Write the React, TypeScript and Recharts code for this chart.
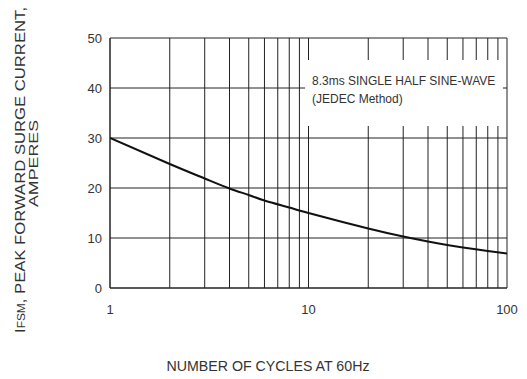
import React from "react";
import { LineChart, Line, XAxis, YAxis, ReferenceLine, Customized } from "recharts";

const cycles = [1, 2, 3, 4, 5, 6, 8, 10, 20, 30, 40, 50, 60, 80, 100];
const current = [30, 24.8, 21.9, 19.9, 18.6, 17.5, 16.1, 15.0, 11.9, 10.3, 9.3, 8.6, 8.1, 7.4, 6.9];
const xTicks = [1, 10, 100];
const yTicks = [0, 10, 20, 30, 40, 50];
const xGrid = [1, 2, 3, 4, 5, 6, 7, 8, 9, 10, 20, 30, 40, 50, 60, 70, 80, 90, 100];
const yGrid = [0, 10, 20, 30, 40, 50];
const noteLines = ["8.3ms SINGLE HALF SINE-WAVE", "(JEDEC Method)"];
const xTitle = "NUMBER OF CYCLES AT 60Hz";
const yTitleMain = "I";
const yTitleSub = "FSM";
const yTitleRest = ", PEAK FORWARD SURGE  CURRENT,";
const yTitle2 = "AMPERES";

const data = cycles.map((c, i) => ({ cycles: c, current: current[i] }));

const FONT = "'Liberation Sans', Arial, sans-serif";

const Titles = () => (
  <g fontFamily={FONT} fill="#333">
    <text
      x={268}
      y={371}
      textAnchor="middle"
      fontSize={15}
      textLength={203}
      lengthAdjust="spacingAndGlyphs"
    >
      {xTitle}
    </text>
    <text
      transform="translate(25,170) rotate(-90)"
      textAnchor="middle"
      fontSize={14}
      textLength={326}
      lengthAdjust="spacingAndGlyphs"
    >
      <tspan>{yTitleMain}</tspan>
      <tspan fontSize={10}>{yTitleSub}</tspan>
      <tspan>{yTitleRest}</tspan>
    </text>
    <text
      transform="translate(37.7,163.5) rotate(-90)"
      textAnchor="middle"
      fontSize={13}
      textLength={87}
      lengthAdjust="spacingAndGlyphs"
    >
      {yTitle2}
    </text>
  </g>
);

export default function App() {
  return (
    <div style={{ position: "absolute", left: 0, top: 0, width: 527, height: 379, background: "#fff" }}>
      <LineChart
        width={527}
        height={379}
        data={data}
        margin={{ top: 38, right: 20, left: 0, bottom: 0 }}
      >
        <XAxis
          dataKey="cycles"
          type="number"
          scale="log"
          domain={[1, 100]}
          ticks={xTicks}
          allowDataOverflow
          tickLine={false}
          axisLine={{ stroke: "#222" }}
          tick={{ fill: "#333", fontSize: 13, fontFamily: FONT }}
          tickMargin={11}
          height={91}
        />
        <YAxis
          type="number"
          domain={[0, 50]}
          ticks={yTicks}
          tickLine={false}
          axisLine={{ stroke: "#222" }}
          tick={{ fill: "#333", fontSize: 13, fontFamily: FONT }}
          width={110}
        />
        {xGrid.map((v) => (
          <ReferenceLine key={"x" + v} x={v} stroke="#222" strokeWidth={1} />
        ))}
        {yGrid.map((v) => (
          <ReferenceLine key={"y" + v} y={v} stroke="#222" strokeWidth={1} />
        ))}
        <Line
          type="natural"
          dataKey="current"
          stroke="#111"
          strokeWidth={2}
          dot={false}
          isAnimationActive={false}
        />
        <Customized component={Titles} />
      </LineChart>
      <div
        style={{
          position: "absolute",
          left: 305,
          top: 60,
          width: 191,
          height: 54,
          background: "#fff",
          paddingLeft: 7,
          paddingTop: 12,
          fontFamily: FONT,
          fontSize: 12,
          lineHeight: "18px",
          color: "#333",
          whiteSpace: "nowrap",
        }}
      >
        {noteLines.map((l) => (
          <div key={l}>{l}</div>
        ))}
      </div>
    </div>
  );
}
